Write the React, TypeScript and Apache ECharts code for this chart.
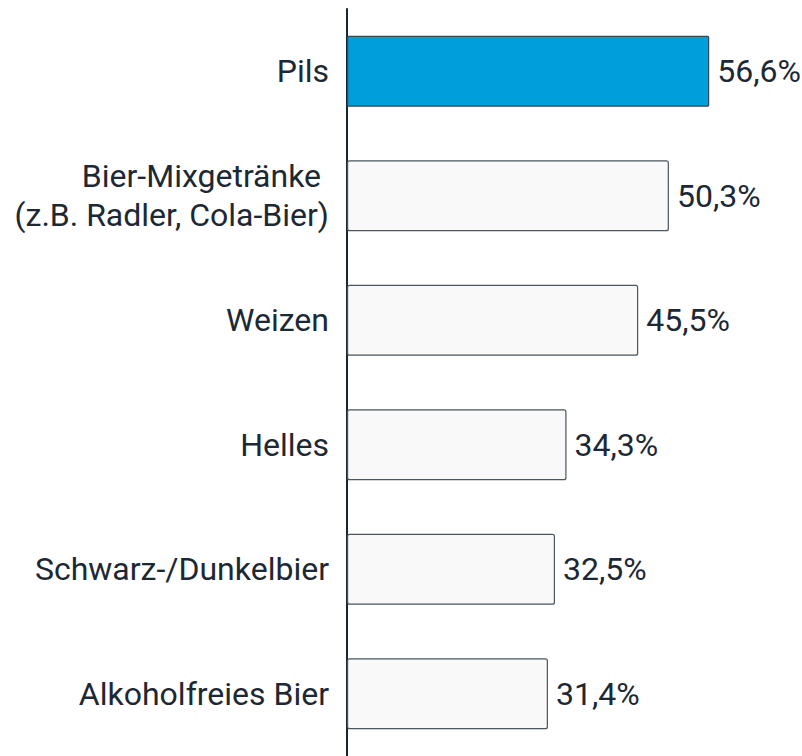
import React, { useEffect, useRef } from "react";
import * as echarts from "echarts";

const categories = [
  "Pils",
  "Bier-Mixgetränke \n(z.B. Radler, Cola-Bier)",
  "Weizen",
  "Helles",
  "Schwarz-/Dunkelbier",
  "Alkoholfreies Bier",
];
const values = [56.6, 50.3, 45.5, 34.3, 32.5, 31.4];
const highlighted = [true, false, false, false, false, false];

export default function App() {
  const ref = useRef<HTMLDivElement>(null);
  useEffect(() => {
    if (!ref.current) return;
    const chart = echarts.init(ref.current, undefined, { renderer: "svg" });
    const textColor = "#1c2834";
    chart.setOption({
      animation: false,
      grid: { left: 347, top: 9, width: 448, height: 750 },
      xAxis: {
        type: "value",
        min: 0,
        max: 70,
        show: false,
      },
      yAxis: {
        type: "category",
        inverse: true,
        data: categories,
        axisLine: { show: true, lineStyle: { color: "#1b2530", width: 2 } },
        axisTick: { show: false },
        splitLine: { show: false },
        axisLabel: {
          margin: 18,
          fontSize: 32,
          fontFamily: "Roboto",
          color: textColor,
          lineHeight: 39,
          align: "right",
          padding: [4, 0, 0, 0],
        },
      },
      series: [
        {
          type: "bar",
          barCategoryGap: "43%",
          data: values.map((v, i) => ({
            value: v,
            itemStyle: highlighted[i]
              ? { color: "#009fdc", borderColor: "#3a4650", borderWidth: 1.2, borderRadius: 1 }
              : { color: "#f9f9f9", borderColor: "#4a555f", borderWidth: 1.2, borderRadius: 2 },
          })),
          label: {
            show: true,
            position: "right",
            distance: 8,
            fontSize: 32,
            fontFamily: "Roboto",
            color: textColor,
            padding: [4, 0, 0, 0],
            formatter: (p: any) => p.value.toFixed(1).replace(".", ",") + "%",
          },
        },
      ],
    });
    return () => chart.dispose();
  }, []);
  return (
    <div
      ref={ref}
      style={{ position: "absolute", left: 0, top: 0, width: 802, height: 756, background: "#fff" }}
    />
  );
}
